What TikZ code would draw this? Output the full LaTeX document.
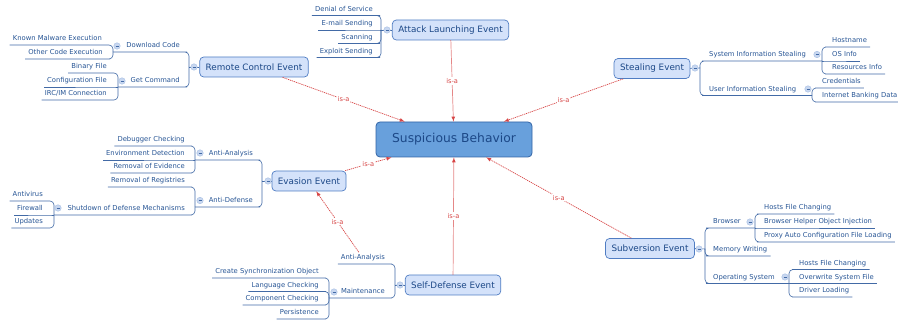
\documentclass[tikz,border=0pt]{standalone}
\usepackage{fontspec}
\setmainfont{DejaVu Sans}
\usetikzlibrary{arrows}
\definecolor{mmtext}{RGB}{38,84,148}
\definecolor{sbtext}{RGB}{28,72,135}
\definecolor{mmline}{RGB}{66,106,166}
\definecolor{evfill}{RGB}{212,226,250}
\definecolor{evdraw}{RGB}{80,125,195}
\definecolor{sbfill}{RGB}{104,160,220}
\definecolor{sbdraw}{RGB}{50,100,165}
\definecolor{isared}{RGB}{215,70,70}
\definecolor{tgfill}{RGB}{200,215,240}
\definecolor{tgdraw}{RGB}{165,190,226}

\begin{document}
\begin{tikzpicture}[x=1pt,y=-1pt,
  root/.style={draw=sbdraw,fill=sbfill,rounded corners=4pt,line width=0.8pt,minimum width=156pt,minimum height=35pt,text=sbtext,font=\fontsize{12.3}{14}\selectfont},
  event/.style={draw=evdraw,fill=evfill,rounded corners=4pt,line width=0.7pt,inner xsep=6pt,minimum height=20pt,text=sbtext,font=\fontsize{8.8}{10}\selectfont},
  leaf/.style={inner xsep=3pt,inner ysep=2.5pt,text height=5pt,text depth=1.5pt,text=mmtext,font=\fontsize{6.8}{8}\selectfont},
  branch/.style={draw=mmline,line width=0.6pt,rounded corners=4pt},
  toggle/.style={circle,draw=tgdraw,fill=tgfill,minimum size=6.5pt,inner sep=0pt,line width=0.4pt,
    path picture={\draw[mmline,line width=0.4pt] ([xshift=-1.5pt]path picture bounding box.center) -- ([xshift=1.5pt]path picture bounding box.center);}},
  isa/.style={color=isared,dash pattern=on 1.2pt off 0.8pt,line width=0.7pt,->,>=latex},
  isalabel/.style={fill=white,inner sep=1pt,text=isared,font=\fontsize{6.6}{8}\selectfont}]
\useasboundingbox (0,0) rectangle (898,320);

\node[root] (sb) at (454,139.5) {Suspicious Behavior};
\node[event] (ale) at (450.5,30) {Attack Launching Event};
\node[event] (rce) at (254,67) {Remote Control Event};
\node[event] (ste) at (652,68.5) {Stealing Event};
\node[event] (eve) at (309,181) {Evasion Event};
\node[event] (sde) at (453,285) {Self-Defense Event};
\node[event] (sue) at (650,248.5) {Subversion Event};

\coordinate (j-ale) at (381,30);
\coordinate (j-rce) at (189,67);
\coordinate (j-dc) at (113,52);
\coordinate (j-gc) at (118,87);
\coordinate (j-ste) at (700,68);
\coordinate (j-sis) at (822,61);
\coordinate (j-uis) at (812,95.5);
\coordinate (j-eve) at (262,181);
\coordinate (j-aa) at (195,160);
\coordinate (j-ad) at (195,207);
\coordinate (j-sdm) at (54,215);
\coordinate (j-sde) at (395,285);
\coordinate (j-mt) at (329,298);
\coordinate (j-sue) at (705,249);
\coordinate (j-br) at (755,228);
\coordinate (j-ops) at (789,283.5);

\node[leaf,anchor=south east] (dos) at (376,15.5) {Denial of Service};
\node[leaf,anchor=south east] (ems) at (376,30) {E-mail Sending};
\node[leaf,anchor=south east] (scn) at (376,43.5) {Scanning};
\node[leaf,anchor=south east] (exs) at (376,57.5) {Exploit Sending};

\node[leaf,anchor=south east] (dc) at (183,52) {Download Code};
\node[leaf,anchor=south east] (gc) at (183,87) {Get Command};
\node[leaf,anchor=south east] (kme) at (105,45) {Known Malware Execution};
\node[leaf,anchor=south east] (oce) at (106,59) {Other Code Execution};
\node[leaf,anchor=south east] (bf) at (110,73) {Binary File};
\node[leaf,anchor=south east] (cf) at (110,87) {Configuration File};
\node[leaf,anchor=south east] (irc) at (110,100) {IRC/IM Connection};

\node[leaf,anchor=south west] (sis) at (706,61) {System Information Stealing};
\node[leaf,anchor=south west] (uis) at (706,95.5) {User Information Stealing};
\node[leaf,anchor=south west] (hn) at (829,47) {Hostname};
\node[leaf,anchor=south west] (osi) at (829,61) {OS Info};
\node[leaf,anchor=south west] (ri) at (829,74) {Resources Info};
\node[leaf,anchor=south west] (crd) at (819,88) {Credentials};
\node[leaf,anchor=south west] (ibd) at (819,102) {Internet Banking Data};

\node[leaf,anchor=south east] (aa) at (256,160) {Anti-Analysis};
\node[leaf,anchor=south east] (ad) at (256,207) {Anti-Defense};
\node[leaf,anchor=south east] (dbc) at (188,146) {Debugger Checking};
\node[leaf,anchor=south east] (envd) at (188,160) {Environment Detection};
\node[leaf,anchor=south east] (roe) at (188,173) {Removal of Evidence};
\node[leaf,anchor=south east] (ror) at (188,187) {Removal of Registries};
\node[leaf,anchor=south east] (sdm) at (188,215) {Shutdown of Defense Mechanisms};
\node[leaf,anchor=south east] (av) at (46,201) {Antivirus};
\node[leaf,anchor=south east] (fw) at (46,215) {Firewall};
\node[leaf,anchor=south east] (upd) at (46,228) {Updates};

\node[leaf,anchor=south east] (saa) at (388,264) {Anti-Analysis};
\node[leaf,anchor=south east] (mt) at (388,298) {Maintenance};
\node[leaf,anchor=south east] (cso) at (322,278) {Create Synchronization Object};
\node[leaf,anchor=south east] (lc) at (322,291.5) {Language Checking};
\node[leaf,anchor=south east] (cc) at (322,305) {Component Checking};
\node[leaf,anchor=south east] (ps) at (322,319) {Persistence};

\node[leaf,anchor=south west] (br) at (710,228) {Browser};
\node[leaf,anchor=south west] (mw) at (710,256) {Memory Writing};
\node[leaf,anchor=south west] (ops) at (710,283.5) {Operating System};
\node[leaf,anchor=south west] (hfc) at (761,214) {Hosts File Changing};
\node[leaf,anchor=south west] (bho) at (761,228) {Browser Helper Object Injection};
\node[leaf,anchor=south west] (pac) at (761,242) {Proxy Auto Configuration File Loading};
\node[leaf,anchor=south west] (hfc2) at (796,269.5) {Hosts File Changing};
\node[leaf,anchor=south west] (osf) at (796,283.5) {Overwrite System File};
\node[leaf,anchor=south west] (drl) at (796,297) {Driver Loading};

\draw[branch] (ale.west) -- (j-ale);
\draw[branch] (j-ale) |- (dos.south east) -- (dos.south west);
\draw[branch] (j-ale) -- (ems.south east) -- (ems.south west);
\draw[branch] (j-ale) |- (scn.south east) -- (scn.south west);
\draw[branch] (j-ale) |- (exs.south east) -- (exs.south west);

\draw[branch] (rce.west) -- (j-rce);
\draw[branch] (j-rce) |- (dc.south east) -- (j-dc);
\draw[branch] (j-rce) |- (gc.south east) -- (j-gc);
\draw[branch] (j-dc) |- (kme.south east) -- (kme.south west);
\draw[branch] (j-dc) |- (oce.south east) -- (oce.south west);
\draw[branch] (j-gc) |- (bf.south east) -- (bf.south west);
\draw[branch] (j-gc) -- (cf.south east) -- (cf.south west);
\draw[branch] (j-gc) |- (irc.south east) -- (irc.south west);

\draw[branch] (ste.east) -- (j-ste);
\draw[branch] (j-ste) |- (sis.south west) -- (j-sis);
\draw[branch] (j-ste) |- (uis.south west) -- (j-uis);
\draw[branch] (j-sis) |- (hn.south west) -- (hn.south east);
\draw[branch] (j-sis) -- (osi.south west) -- (osi.south east);
\draw[branch] (j-sis) |- (ri.south west) -- (ri.south east);
\draw[branch] (j-uis) |- (crd.south west) -- (crd.south east);
\draw[branch] (j-uis) |- (ibd.south west) -- (ibd.south east);

\draw[branch] (eve.west) -- (j-eve);
\draw[branch] (j-eve) |- (aa.south east) -- (j-aa);
\draw[branch] (j-eve) |- (ad.south east) -- (j-ad);
\draw[branch] (j-aa) |- (dbc.south east) -- (dbc.south west);
\draw[branch] (j-aa) -- (envd.south east) -- (envd.south west);
\draw[branch] (j-aa) |- (roe.south east) -- (roe.south west);
\draw[branch] (j-ad) |- (ror.south east) -- (ror.south west);
\draw[branch] (j-ad) |- (sdm.south east) -- (j-sdm);
\draw[branch] (j-sdm) |- (av.south east) -- (av.south west);
\draw[branch] (j-sdm) -- (fw.south east) -- (fw.south west);
\draw[branch] (j-sdm) |- (upd.south east) -- (upd.south west);

\draw[branch] (sde.west) -- (j-sde);
\draw[branch] (j-sde) |- (saa.south east) -- (saa.south west);
\draw[branch] (j-sde) |- (mt.south east) -- (j-mt);
\draw[branch] (j-mt) |- (cso.south east) -- (cso.south west);
\draw[branch] (j-mt) |- (lc.south east) -- (lc.south west);
\draw[branch] (j-mt) |- (cc.south east) -- (cc.south west);
\draw[branch] (j-mt) |- (ps.south east) -- (ps.south west);

\draw[branch] (sue.east) -- (j-sue);
\draw[branch] (j-sue) |- (br.south west) -- (j-br);
\draw[branch] (j-sue) |- (mw.south west) -- (mw.south east);
\draw[branch] (j-sue) |- (ops.south west) -- (j-ops);
\draw[branch] (j-br) |- (hfc.south west) -- (hfc.south east);
\draw[branch] (j-br) -- (bho.south west) -- (bho.south east);
\draw[branch] (j-br) |- (pac.south west) -- (pac.south east);
\draw[branch] (j-ops) |- (hfc2.south west) -- (hfc2.south east);
\draw[branch] (j-ops) -- (osf.south west) -- (osf.south east);
\draw[branch] (j-ops) |- (drl.south west) -- (drl.south east);

\node[toggle] (t-ale) at (387,30) {};
\node[toggle] (t-rce) at (194,67) {};
\node[toggle] (t-dc) at (117,46) {};
\node[toggle] (t-gc) at (122,81) {};
\node[toggle] (t-ste) at (695,68) {};
\node[toggle] (t-sis) at (817,54.5) {};
\node[toggle] (t-uis) at (808,89) {};
\node[toggle] (t-eve) at (268,181) {};
\node[toggle] (t-aa) at (200,153) {};
\node[toggle] (t-ad) at (200,200.5) {};
\node[toggle] (t-sdm) at (58,208) {};
\node[toggle] (t-sde) at (400,285) {};
\node[toggle] (t-mt) at (334,292) {};
\node[toggle] (t-sue) at (699,249) {};
\node[toggle] (t-br) at (750,222) {};
\node[toggle] (t-ops) at (785,277) {};

\path[isa]
  (ale) edge node[isalabel]{is-a} (sb)
  (rce) edge node[isalabel]{is-a} (sb)
  (ste) edge node[isalabel]{is-a} (sb)
  (eve) edge node[isalabel]{is-a} (sb)
  (sde) edge node[isalabel]{is-a} (sb)
  (sue) edge node[isalabel]{is-a} (sb)
  (saa) edge node[isalabel]{is-a} (eve);
\end{tikzpicture}
\end{document}
